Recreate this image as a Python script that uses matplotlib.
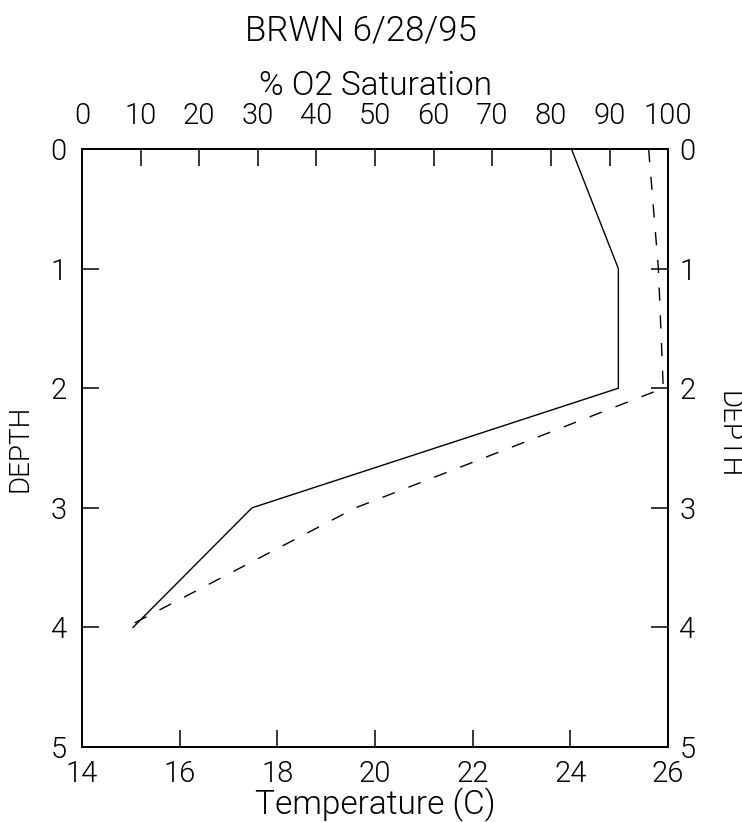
"""
BRWN 6/28/95 - depth profile of % O2 saturation and temperature.
"""

import matplotlib
matplotlib.use("Agg")
import matplotlib.pyplot as plt
from matplotlib import font_manager

# Data
depth = [0, 1, 2, 3, 4]
o2_saturation = [83.5, 91.5, 91.5, 29.0, 8.7]     # solid line, top axis
temperature = [25.6, 25.8, 25.9, 19.6, 14.9]      # dashed line, bottom axis

o2_ticks = [0, 10, 20, 30, 40, 50, 60, 70, 80, 90, 100]
temp_ticks = [14, 16, 18, 20, 22, 24, 26]
depth_ticks = [0, 1, 2, 3, 4, 5]

TITLE = "BRWN 6/28/95"


def weight_num(w):
    if isinstance(w, str):
        return font_manager.weight_dict.get(w, 400)
    return w


def pick_light_font():
    """Return (family, weight) for a thin sans face, the scan uses a light stroke font."""
    cands = ["Roboto", "Lato", "Open Sans", "Inter", "Noto Sans"]
    for name in cands:
        for f in font_manager.fontManager.ttflist:
            if f.name == name and weight_num(f.weight) == 300 and f.style == "normal":
                return name, 300
    return "Liberation Sans", 400


FAMILY, WEIGHT = pick_light_font()
plt.rcParams["font.family"] = [FAMILY, "DejaVu Sans"]
plt.rcParams["font.weight"] = WEIGHT
plt.rcParams["axes.labelweight"] = WEIGHT
plt.rcParams["lines.scale_dashes"] = False

fig = plt.figure(figsize=(7.42, 8.22), dpi=100)
fig.patch.set_facecolor("white")
ax = fig.add_axes([0.1105, 0.0912, 0.790, 0.7275])

# bottom / left: temperature vs depth
ax.plot(temperature, depth, color="black", lw=1.0, linestyle=(0, (9.5, 10.5)))
ax.set_xlim(14, 26)
ax.set_ylim(5, 0)
ax.set_xticks(temp_ticks)
ax.set_yticks(depth_ticks)

# top: % O2 saturation
ax_t = ax.twiny()
ax_t.plot(o2_saturation, depth, color="black", lw=1.0)
ax_t.set_xlim(0, 100)
ax_t.set_xticks(o2_ticks)

# right: depth again
ax_r = ax.twinx()
ax_r.set_ylim(5, 0)
ax_r.set_yticks(depth_ticks)

for a in (ax, ax_t, ax_r):
    for s in a.spines.values():
        s.set_linewidth(1.4)

ax.tick_params(axis="x", direction="in", length=12, width=1.1, pad=9, labelsize=21)
ax.tick_params(axis="y", direction="in", length=12, width=1.1, pad=11, labelsize=21)
ax_t.tick_params(axis="x", direction="in", length=12, width=1.1, pad=14, labelsize=21)
ax_r.tick_params(axis="y", direction="in", length=12, width=1.1, pad=8, labelsize=21)

ax.set_xlabel("Temperature (C)", fontsize=24, labelpad=0)
ax.set_ylabel("DEPTH", fontsize=20, labelpad=12)
ax_t.set_xlabel("% O2 Saturation", fontsize=24, labelpad=5)

fig.text(728 / 742, 1 - 435 / 822, "DEPTH", rotation=-90,
         ha="center", va="center", fontsize=20)
fig.text(361 / 742, 1 - 31 / 822, TITLE, ha="center", va="center", fontsize=25)

fig.savefig("out.png", dpi=100, facecolor="white")
